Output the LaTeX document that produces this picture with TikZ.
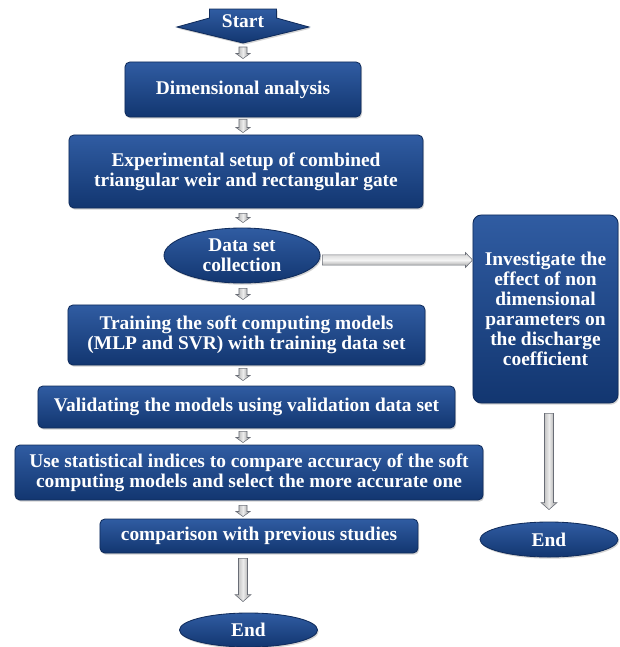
\documentclass[tikz,border=0pt]{standalone}
\usepackage{fontspec}
\setmainfont{Liberation Serif}
\usepackage{tikz}
\usetikzlibrary{calc, shapes.geometric, shadows}
\definecolor{box-top}{RGB}{48,92,162}
\definecolor{box-bottom}{RGB}{18,54,112}
\definecolor{box-edge}{RGB}{16,44,92}
\definecolor{arrow-edge}{RGB}{105,109,118}

\tikzset{
	flowbox/.style={draw=box-edge, line width=0.6pt, top color=box-top, bottom color=box-bottom, rounded corners=3.5pt, inner sep=0pt, align=center, text=white, font=\fontsize{13.8}{14.2}\selectfont\bfseries, drop shadow={opacity=0.35, shadow xshift=0.8pt, shadow yshift=-1.2pt}},
	flowoval/.style={flowbox, ellipse, rounded corners=0pt},
	garrow/.style={draw=arrow-edge, line width=0.4pt, left color=gray!70, right color=gray!85, middle color=gray!15},
	harrow/.style={draw=arrow-edge, line width=0.4pt, top color=gray!35, bottom color=gray!80, middle color=gray!8}
}

\newcommand{\blockarrow}[6][garrow]{%
	\coordinate (ba-s) at (#2);
	\coordinate (ba-e) at (#3);
	\coordinate (ba-h) at ($(ba-e)!#6!(ba-s)$);
	\draw[#1] ($(ba-s)!#4!90:(ba-e)$) -- ($(ba-h)!#4!90:(ba-e)$) -- ($(ba-h)!#5!90:(ba-e)$) -- (ba-e) -- ($(ba-h)!#5!-90:(ba-e)$) -- ($(ba-h)!#4!-90:(ba-e)$) -- ($(ba-s)!#4!-90:(ba-e)$) -- cycle;
}

\begin{document}
\begin{tikzpicture}[x=0.025cm, y=-0.025cm]
	\useasboundingbox (0,0) rectangle (620,647);
	
	\draw[draw=box-edge, line width=0.6pt, top color=box-top, bottom color=box-bottom, drop shadow={opacity=0.35, shadow xshift=0.8pt, shadow yshift=-1.2pt}] (209.5,9) -- (276.5,9) -- (276.5,18) -- (309,27) -- (243,43) coordinate (start-tip) -- (177,27) -- (209.5,18) -- cycle;
	\node[text=white, font=\fontsize{13.8}{14.2}\selectfont\bfseries] at (243,21) (start) {Start};
	
	\node[flowbox, minimum width=5.9cm, minimum height=1.375cm] at (243,89.5) (dim) {Dimensional analysis};
	\node[flowbox, minimum width=8.85cm, minimum height=1.825cm] at (246,171.5) (setup) {Experimental setup of combined\\triangular weir and rectangular gate};
	\node[flowoval, minimum width=3.9cm, minimum height=1.375cm] at (242,255.5) (data) {Data set\\collection};
	\node[flowbox, minimum width=8.925cm, minimum height=1.5cm] at (246.5,335) (train) {Training the soft computing models\\(MLP and SVR) with training data set};
	\node[flowbox, minimum width=10.425cm, minimum height=1.05cm] at (246.5,407) (valid) {Validating the models using validation data set};
	\node[flowbox, minimum width=11.7cm, minimum height=1.375cm] at (249,472.5) (stat) {Use statistical indices to compare accuracy of the soft\\computing models and select the more accurate one};
	\node[flowbox, minimum width=7.95cm, minimum height=0.85cm] at (259,536) (comp) {comparison with previous studies};
	\node[flowoval, minimum width=3.45cm, minimum height=0.85cm] at (248.5,630) (end-left) {End};
	
	\node[flowbox, rounded corners=6pt, minimum width=3.625cm, minimum height=4.7cm] at (545.5,309) (invest) {Investigate the\\effect of non\\dimensional\\parameters on\\the discharge\\coefficient};
	\node[flowoval, minimum width=3.45cm, minimum height=0.875cm] at (549,539.5) (end-right) {End};
	
	\blockarrow{$(start-tip)+(0,4)$}{$(dim.north -| start)+(0,-3)$}{2.85pt}{5pt}{3.6pt}
	\blockarrow{$(dim.south -| start)+(0,2)$}{$(setup.north -| start)+(0,-2)$}{2.85pt}{5pt}{3.6pt}
	\blockarrow{$(setup.south -| start)+(0,5)$}{$(data.north -| start)+(0,-5)$}{2.85pt}{5pt}{3.6pt}
	\blockarrow{$(data.south -| start)+(0,5)$}{$(train.north -| start)+(0,-5)$}{2.85pt}{5pt}{3.6pt}
	\blockarrow{$(train.south -| start)+(0,3)$}{$(valid.north -| start)+(0,-5)$}{2.85pt}{5pt}{3.6pt}
	\blockarrow{$(valid.south -| start)+(0,3)$}{$(stat.north -| start)+(0,-2)$}{2.85pt}{5pt}{3.6pt}
	\blockarrow{$(stat.south -| start)+(0,5)$}{$(comp.north -| start)+(0,-2)$}{2.85pt}{5pt}{3.6pt}
	\blockarrow{$(comp.south -| start)+(0,5)$}{$(end-left.north -| start)+(0,-11)$}{3.2pt}{5.7pt}{5pt}
	\blockarrow[harrow]{$(data.east)+(2,4.5)$}{$(data.east -| invest.west)+(0,4.5)$}{3.6pt}{5.3pt}{5pt}
	\blockarrow{$(invest.south -| end-right)+(0,10)$}{$(end-right.north)+(0,-12)$}{3.2pt}{5.7pt}{5pt}
\end{tikzpicture}
\end{document}
